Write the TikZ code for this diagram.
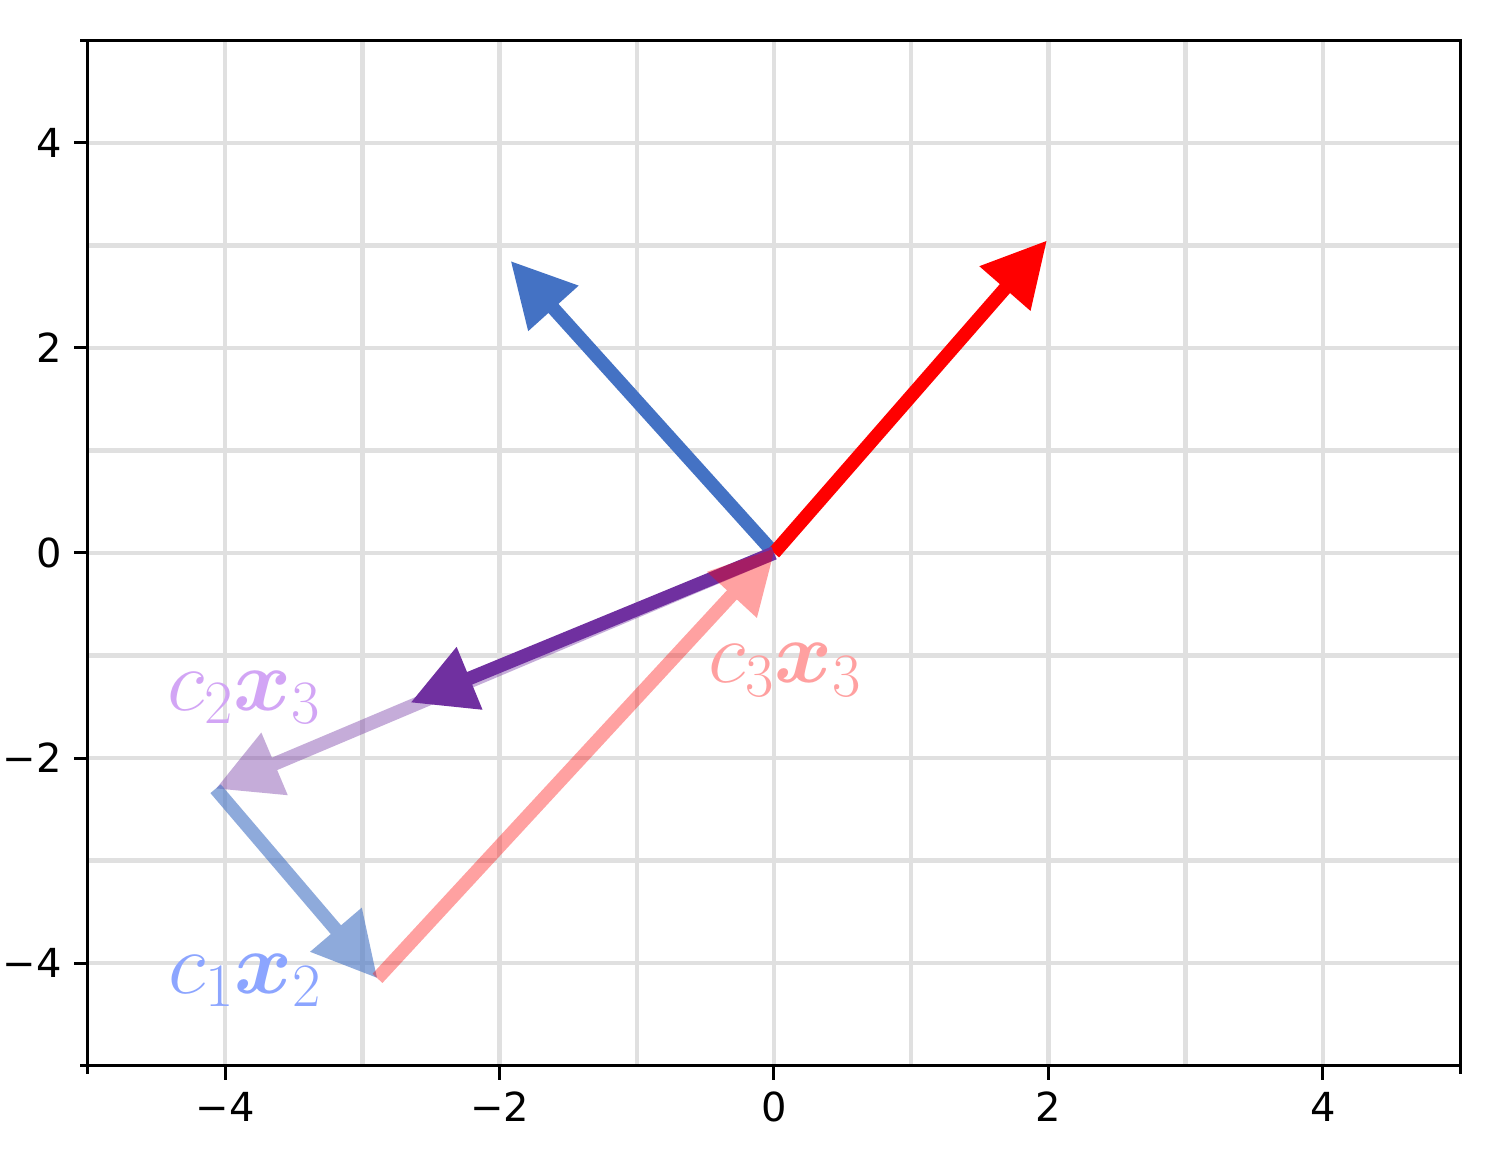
\RequirePackage{fix-cm}
\documentclass[tikz,border=0pt]{standalone}
\usepackage{bm}
\usepackage{fontspec}
\newfontfamily\tickfont{DejaVu Sans}
\usetikzlibrary{arrows.meta}
\definecolor{vblue}{RGB}{68,114,196}
\definecolor{vred}{RGB}{255,0,0}
\definecolor{vpurple}{RGB}{112,48,160}
\definecolor{gridc}{RGB}{224,224,224}
\definecolor{labpurple}{RGB}{210,165,245}
\definecolor{labblue}{RGB}{140,165,255}
\definecolor{labred}{RGB}{255,160,160}
\begin{document}
\begin{tikzpicture}[x=137.2pt,y=102.5pt,
  vec/.style={line width=13.5pt, -{Triangle[length=64pt,width=64pt]}},
  gridline/.style={gridc, line width=4.5pt},
  frame/.style={black, line width=3pt},
  ticklab/.style={font=\tickfont\fontsize{40}{40}\selectfont, inner sep=0pt},
  veclab/.style={font=\fontsize{88}{88}\selectfont, inner sep=0pt, anchor=base}]
\fill[white] (-774pt,-606pt) rectangle (733pt,553pt);
\useasboundingbox (-774pt,-606pt) rectangle (733pt,553pt);
% grid
\foreach \i in {-4,...,4} {
  \draw[gridline] (\i,-5) -- (\i,5);
  \draw[gridline] (-5,\i) -- (5,\i);
}
% frame
\draw[frame] (-5,-5) rectangle (5,5);
% ticks
\foreach \i/\t in {-4/−4,-2/−2,0/0,2/2,4/4} {
  \draw[frame] (\i,-5) -- ++(0,-14pt);
  \draw[frame] (-5,\i) -- ++(-14pt,0);
  \node[ticklab, anchor=base] (xl\i) at (\i,-5.551) {\t};
  \node[ticklab, anchor=east] (yl\i) at (-5.19,\i) {\t};
}
\draw[frame] (-5,-5) -- ++(0,-8pt);
\draw[frame] (5,-5) -- ++(0,-8pt);
\draw[frame] (-5,-5) -- ++(-8pt,0);
\draw[frame] (-5,5) -- ++(-8pt,0);
% vectors
\coordinate (O) at (0,0);
\coordinate (R) at (1.99,3.05);
\coordinate (B) at (-1.92,2.85);
\coordinate (P) at (-2.65,-1.46);
\coordinate (Q) at (-4.07,-2.30);
\coordinate (S) at (-2.89,-4.15);
\coordinate (T) at (0.01,0.05);
\draw[vec, vblue] (O) -- (B);
\draw[vec, vred] (O) -- (R);
\begin{scope}[transparency group, opacity=0.4]
  \draw[vec, vpurple] (O) -- (Q);
\end{scope}
\draw[vec, vpurple] (O) -- (P);
\begin{scope}[transparency group, opacity=0.6]
  \draw[vec, vblue] (Q) -- (S);
\end{scope}
\begin{scope}[transparency group, opacity=0.37]
  \draw[vec, vred] (S) -- (T);
\end{scope}
% labels
\node[veclab, text=labpurple] (l2) at (-3.863,-1.532) {$c_2\bm{x}_3$};
\node[veclab, text=labblue] (l1) at (-3.856,-4.293) {$c_1\bm{x}_2$};
\node[veclab, text=labred] (l3) at (0.080,-1.268) {$c_3\bm{x}_3$};
\end{tikzpicture}
\end{document}
